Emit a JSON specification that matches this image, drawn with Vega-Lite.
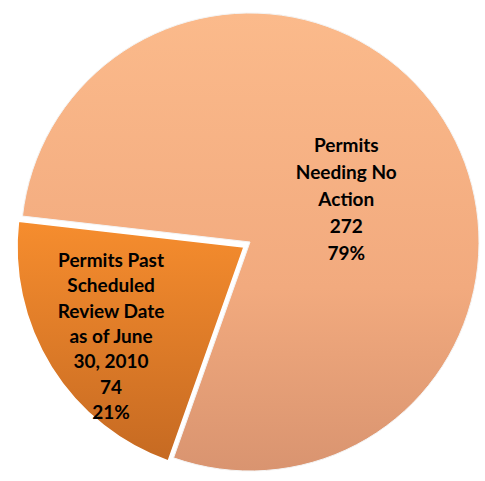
{
  "$schema": "https://vega.github.io/schema/vega-lite/v6.json",
  "width": 485,
  "height": 481,
  "autosize": {"type": "fit", "contains": "padding"},
  "padding": {"left": 15, "top": 3, "right": 0, "bottom": 0},
  "background": "white",
  "view": {"stroke": null},
  "data": {
    "values": [
      {"category": "Permits Past Scheduled Review Date as of June 30, 2010", "value": 74, "percent": "21%",
       "lines": ["Permits Past", "Scheduled", "Review Date", "as of June", "30, 2010", "74", "21%"]},
      {"category": "Permits Needing No Action", "value": 272, "percent": "79%",
       "lines": ["Permits", "Needing No", "Action", "272", "79%"]}
    ]
  },
  "encoding": {
    "theta": {"field": "value", "type": "quantitative", "stack": true, "scale": {"range": [3.482, 9.765]}},
    "order": {"field": "value", "type": "quantitative", "sort": "ascending"}
  },
  "layer": [
    {
      "mark": {
        "type": "arc", "radius": 229, "stroke": "#f4f4f4", "strokeWidth": 1,
        "fill": {"gradient": "linear", "x1": 0, "y1": 0, "x2": 0, "y2": 1,
                 "stops": [{"offset": 0, "color": "#FBBA8B"}, {"offset": 0.6, "color": "#F2AA7E"}, {"offset": 1, "color": "#D99470"}]}
      },
      "encoding": {"opacity": {"condition": {"test": "datum.value == 272", "value": 1}, "value": 0}}
    },
    {
      "mark": {
        "type": "arc", "radius": 227, "xOffset": -6, "yOffset": 5, "stroke": "white", "strokeWidth": 1.5,
        "fill": {"gradient": "linear", "x1": 0, "y1": 0, "x2": 0, "y2": 1,
                 "stops": [{"offset": 0, "color": "#F68D2E"}, {"offset": 1, "color": "#C66A22"}]}
      },
      "encoding": {"opacity": {"condition": {"test": "datum.value == 74", "value": 1}, "value": 0}}
    },
    {
      "mark": {"type": "text", "radius": 110, "dx": 3, "dy": -38, "font": "Lato", "fontWeight": "bold", "fontSize": 19, "lineHeight": 27, "color": "black", "align": "center", "baseline": "middle"},
      "encoding": {
        "text": {"field": "lines"},
        "opacity": {"condition": {"test": "datum.value == 272", "value": 1}, "value": 0}
      }
    },
    {
      "mark": {"type": "text", "radius": 168, "dx": 3.5, "dy": -70, "font": "Lato", "fontWeight": "bold", "fontSize": 19, "lineHeight": 25.3, "color": "black", "align": "center", "baseline": "middle"},
      "encoding": {
        "text": {"field": "lines"},
        "opacity": {"condition": {"test": "datum.value == 74", "value": 1}, "value": 0}
      }
    }
  ]
}
